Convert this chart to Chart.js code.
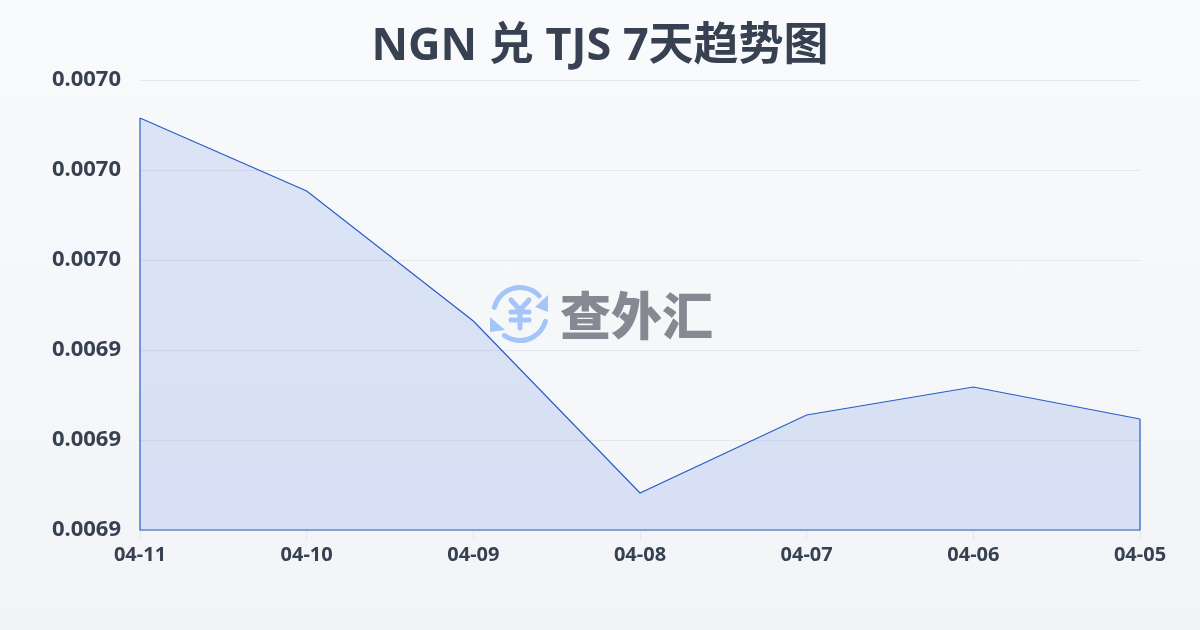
<!DOCTYPE html>
<html lang="zh">
<head>
<meta charset="utf-8">
<title>NGN 兑 TJS 7天趋势图</title>
<script src="https://cdn.jsdelivr.net/npm/chart.js@4"></script>
<style>
    html, body { margin: 0; padding: 0; }
    body { width: 1200px; height: 630px; overflow: hidden; background: linear-gradient(180deg, #f9fafc 0%, #f2f4f7 100%); }
    #wrap { width: 1200px; height: 630px; }
</style>
</head>
<body>
<div id="wrap"><canvas id="rateChart"></canvas></div>
<script>
const chartTitle = 'NGN 兑 TJS 7天趋势图';
const watermark = '查外汇';
const dates = ['04-11', '04-10', '04-09', '04-08', '04-07', '04-06', '04-05'];
const rates = [0.00696578, 0.00695767, 0.00694322, 0.00692411, 0.00693278, 0.00693589, 0.00693233];
const yTicks = [0.00697, 0.00696, 0.00695, 0.00694, 0.00693, 0.00692];
const yTickLabels = ['0.0070', '0.0070', '0.0070', '0.0069', '0.0069', '0.0069'];

const latin = '"Noto Sans", "Noto Sans CJK SC", sans-serif';
const lineColor = '#2a5cc6';
const labelColor = '#374151';

// left, right and bottom edges of the filled area
const outlinePlugin = {
    id: 'outline',
    afterDatasetsDraw(chart) {
        const { ctx, scales: { x, y } } = chart;
        const last = dates.length - 1;
        ctx.save();
        ctx.strokeStyle = lineColor;
        ctx.lineWidth = 1.2;
        ctx.beginPath();
        ctx.moveTo(x.getPixelForValue(0), y.getPixelForValue(rates[0]));
        ctx.lineTo(x.getPixelForValue(0), y.bottom);
        ctx.lineTo(x.getPixelForValue(last), y.bottom);
        ctx.lineTo(x.getPixelForValue(last), y.getPixelForValue(rates[last]));
        ctx.stroke();
        ctx.restore();
    }
};

// logo and site name in the middle of the chart
const watermarkPlugin = {
    id: 'watermark',
    afterDraw(chart) {
        const { ctx } = chart;
        const cx = 520, cy = 314, r = 26.5;
        ctx.save();
        ctx.strokeStyle = '#a3c5f7';
        ctx.fillStyle = '#a3c5f7';
        ctx.lineWidth = 5;
        ctx.lineCap = 'round';
        ctx.lineJoin = 'round';
        // two curved arrows
        ctx.beginPath();
        ctx.arc(cx, cy, r, Math.PI * 1.08, Math.PI * 1.76);
        ctx.stroke();
        ctx.beginPath();
        ctx.arc(cx, cy, r, Math.PI * 0.09, Math.PI * 0.70);
        ctx.stroke();
        ctx.beginPath();
        ctx.moveTo(548, 295);
        ctx.lineTo(548, 312);
        ctx.lineTo(535, 307);
        ctx.closePath();
        ctx.fill();
        ctx.beginPath();
        ctx.moveTo(490, 317);
        ctx.lineTo(490, 332);
        ctx.lineTo(505, 330);
        ctx.closePath();
        ctx.fill();
        // yen sign
        ctx.beginPath();
        ctx.moveTo(511, 300);
        ctx.lineTo(520, 310);
        ctx.lineTo(529, 300);
        ctx.moveTo(520, 310);
        ctx.lineTo(520, 328);
        ctx.moveTo(511, 312);
        ctx.lineTo(529, 312);
        ctx.moveTo(511, 320);
        ctx.lineTo(529, 320);
        ctx.stroke();
        ctx.fillStyle = '#858a92';
        ctx.font = '900 51px "Noto Sans CJK SC", sans-serif';
        ctx.textAlign = 'left';
        ctx.textBaseline = 'middle';
        ctx.fillText(watermark, 560, 316);
        ctx.restore();
    }
};

new Chart(document.getElementById('rateChart'), {
    type: 'line',
    data: {
        labels: dates,
        datasets: [{
            data: rates,
            borderColor: lineColor,
            borderWidth: 1.2,
            backgroundColor: 'rgba(47, 98, 220, 0.14)',
            fill: 'start',
            tension: 0,
            pointRadius: 0
        }]
    },
    options: {
        responsive: true,
        maintainAspectRatio: false,
        animation: false,
        plugins: {
            legend: { display: false },
            tooltip: { enabled: false },
            title: {
                display: true,
                text: chartTitle,
                color: '#374151',
                font: { family: latin, size: 45, weight: 'bold' },
                // .02 keeps the grid lines from rounding up a pixel
                padding: { top: 20, bottom: 6.02 }
            }
        },
        scales: {
            x: {
                offset: false,
                border: { display: false },
                grid: { drawOnChartArea: false, drawTicks: true, tickLength: 10, color: '#e5e7eb' },
                ticks: {
                    autoSkip: false,
                    maxRotation: 0,
                    padding: 3,
                    color: labelColor,
                    font: { family: latin, size: 20, weight: 'bold' }
                },
                afterFit(scale) { scale.height = 100; }
            },
            y: {
                min: yTicks[yTicks.length - 1],
                max: yTicks[0],
                border: { display: false },
                grid: { drawTicks: false, color: '#e5e7eb' },
                afterBuildTicks(scale) { scale.ticks = yTicks.map(v => ({ value: v })); },
                ticks: {
                    padding: 19,
                    color: labelColor,
                    font: { family: latin, size: 22, weight: 'bold' },
                    callback(value, index) { return yTickLabels[index]; }
                },
                afterFit(scale) { scale.width = 140; }
            },
            // empty axis, only holds the right margin so the title stays centred on the page
            margin: {
                position: 'right',
                border: { display: false },
                grid: { display: false },
                ticks: { display: false },
                afterFit(scale) { scale.width = 60; }
            }
        }
    },
    plugins: [outlinePlugin, watermarkPlugin]
});
</script>
</body>
</html>
